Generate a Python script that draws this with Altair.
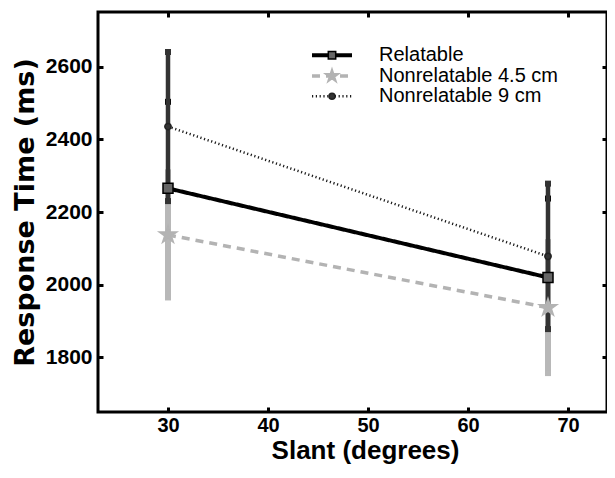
import altair as alt
import pandas as pd

# ---- data ----
slant = [30, 68]
series_names = ["Relatable", "Nonrelatable 4.5 cm", "Nonrelatable 9 cm"]
rel_mean = [2265, 2020]
rel_err = [238, 217]
nr45_mean = [2137, 1937]
nr45_err = [172, 180]
nr9_mean = [2435, 2078]
nr9_err = [205, 200]

x_ticks = [30, 40, 50, 60, 70]
y_ticks = [1800, 2000, 2200, 2400, 2600]

# legend placement (data units)
leg_y = [2631, 2574, 2518]
leg_x1, leg_x2, leg_xm, leg_xt = 44.4, 48.4, 46.4, 51.1

STAR = ("M0,-1L0.2245,-0.309L0.951,-0.309L0.363,0.118L0.588,0.809L0,0.382"
        "L-0.588,0.809L-0.363,0.118L-0.951,-0.309L-0.2245,-0.309Z")

styles = {
    "Relatable": dict(color="black", width=4, dash=[1, 0], shape="square",
                      msize=100, lsize=55, mfill="#666666", mstroke="black", barc="black", barw=4),
    "Nonrelatable 4.5 cm": dict(color="#b3b3b3", width=3.5, dash=[8, 6], shape=STAR,
                                msize=340, lsize=200, mfill="#b3b3b3", mstroke="#b3b3b3",
                                barc="#b8b8b8", barw=6),
    "Nonrelatable 9 cm": dict(color="#1a1a1a", width=2.5, dash=[1.2, 2.6], shape="circle",
                              msize=40, lsize=36, mfill="#333333", mstroke="#222222",
                              barc="#333333", barw=4.5),
}
means = {"Relatable": rel_mean, "Nonrelatable 4.5 cm": nr45_mean, "Nonrelatable 9 cm": nr9_mean}
errs = {"Relatable": rel_err, "Nonrelatable 4.5 cm": nr45_err, "Nonrelatable 9 cm": nr9_err}

xs = alt.Scale(domain=[23, 73.9], nice=False, zero=False)
ys = alt.Scale(domain=[1650, 2750], nice=False, zero=False)

FONT = "Liberation Sans"

ax_bottom = alt.Axis(orient="bottom", values=x_ticks, domain=False, grid=False,
                     tickSize=5, tickWidth=3, tickColor="black", offset=-5,
                     labelFont=FONT, labelFontWeight="bold", labelFontSize=20,
                     labelColor="black", labelPadding=3,
                     title="Slant (degrees)", titleFont=FONT, titleFontWeight="bold",
                     titleFontSize=26, titleColor="black", titlePadding=2, titleX=267)
ax_left = alt.Axis(orient="left", values=y_ticks, format="d", domain=False, grid=False,
                   tickSize=5, tickWidth=3, tickColor="black", offset=-5,
                   labelFont=FONT, labelFontWeight="bold", labelFontSize=21,
                   labelColor="black", labelPadding=6,
                   title="Response Time (ms)", titleFont="DejaVu Sans", titleFontWeight="bold",
                   titleFontSize=27, titleColor="black", titlePadding=6)
ax_top = alt.Axis(orient="top", values=x_ticks, domain=False, grid=False, labels=False,
                  tickSize=5, tickWidth=3, tickColor="black", offset=-5, title=None)
ax_right = alt.Axis(orient="right", values=y_ticks, domain=False, grid=False, labels=False,
                    tickSize=5, tickWidth=3, tickColor="black", offset=-5, title=None)

layers = []

# error bars
for name in series_names:
    st = styles[name]
    df = pd.DataFrame({"x": slant,
                       "lo": [m - e for m, e in zip(means[name], errs[name])],
                       "hi": [m + e for m, e in zip(means[name], errs[name])]})
    layers.append(alt.Chart(df).mark_rule(color=st["barc"], strokeWidth=st["barw"]).encode(
        x=alt.X("x:Q", scale=xs, axis=None),
        y=alt.Y("lo:Q", scale=ys, axis=None), y2="hi:Q"))
    caps = pd.DataFrame({"x": slant * 2, "y": list(df["lo"]) + list(df["hi"])})
    layers.append(alt.Chart(caps).mark_point(shape="square", filled=True, size=36,
                                             color=st["barc"] if name != "Relatable" else "black",
                                             opacity=1).encode(
        x=alt.X("x:Q", scale=xs, axis=None), y=alt.Y("y:Q", scale=ys, axis=None)))

# lines + markers
for i, name in enumerate(["Nonrelatable 4.5 cm", "Nonrelatable 9 cm", "Relatable"]):
    st = styles[name]
    df = pd.DataFrame({"x": slant, "y": means[name]})
    if i == 0:
        xenc = alt.X("x:Q", scale=xs, axis=ax_bottom)
        yenc = alt.Y("y:Q", scale=ys, axis=ax_left)
    elif i == 1:
        xenc = alt.X("x:Q", scale=xs, axis=ax_top)
        yenc = alt.Y("y:Q", scale=ys, axis=ax_right)
    else:
        xenc = alt.X("x:Q", scale=xs, axis=None)
        yenc = alt.Y("y:Q", scale=ys, axis=None)
    layers.append(alt.Chart(df).mark_line(color=st["color"], strokeWidth=st["width"],
                                          strokeDash=st["dash"]).encode(x=xenc, y=yenc))
    layers.append(alt.Chart(df).mark_point(shape=st["shape"], size=st["msize"], filled=True,
                                           fill=st["mfill"], stroke=st["mstroke"],
                                           strokeWidth=1.5, opacity=1).encode(
        x=alt.X("x:Q", scale=xs, axis=None), y=alt.Y("y:Q", scale=ys, axis=None)))

# legend
for name, yy in zip(series_names, leg_y):
    st = styles[name]
    ldf = pd.DataFrame({"x1": [leg_x1], "x2": [leg_x2], "xm": [leg_xm], "xt": [leg_xt],
                        "y": [yy], "label": [name]})
    layers.append(alt.Chart(ldf).mark_rule(color=st["color"], strokeWidth=st["width"],
                                           strokeDash=st["dash"]).encode(
        x=alt.X("x1:Q", scale=xs, axis=None), x2="x2:Q", y=alt.Y("y:Q", scale=ys, axis=None)))
    layers.append(alt.Chart(ldf).mark_point(shape=st["shape"], size=st["lsize"],
                                            filled=True, fill=st["mfill"], stroke=st["mstroke"],
                                            strokeWidth=1.5, opacity=1).encode(
        x=alt.X("xm:Q", scale=xs, axis=None), y=alt.Y("y:Q", scale=ys, axis=None)))
    layers.append(alt.Chart(ldf).mark_text(align="left", baseline="middle", font=FONT,
                                           fontSize=20, color="black").encode(
        x=alt.X("xt:Q", scale=xs, axis=None), y=alt.Y("y:Q", scale=ys, axis=None),
        text="label:N"))

chart = alt.layer(*layers).resolve_axis(x="independent", y="independent").properties(
    width=509, height=400,
    autosize=alt.AutoSizeParams(type="none"),
    padding={"left": 90, "top": 4, "right": 0, "bottom": 52},
    background="white",
).configure_view(stroke="black", strokeWidth=3)

chart.save("out.html", embed_options={"renderer": "svg", "actions": False})
